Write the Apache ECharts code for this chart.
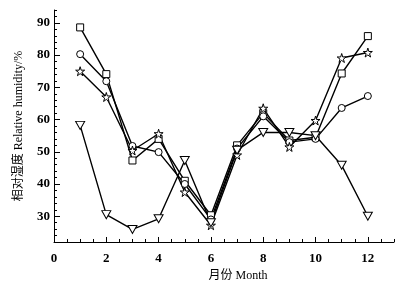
<!DOCTYPE html>
<html>
<head>
<meta charset="utf-8">
<script src="https://cdn.jsdelivr.net/npm/echarts@6/dist/echarts.min.js"></script>
<style>
  html, body { margin: 0; padding: 0; background: #fff; }
  #chart { width: 410px; height: 287px; }
</style>
</head>
<body>
<div id="chart"></div>
<script>
'use strict';
// 月份
var months = [1, 2, 3, 4, 5, 6, 7, 8, 9, 10, 11, 12];
// 四条相对湿度曲线
var squareData = [88.6, 74.1, 47.3, 54.0, 41.0, 30.3, 52.0, 62.0, 53.5, 54.5, 74.3, 85.9];
var circleData = [80.3, 71.9, 51.8, 49.9, 40.0, 29.0, 51.0, 61.0, 53.0, 54.0, 63.6, 67.3];
var starData = [75.0, 67.0, 50.4, 55.6, 37.5, 27.2, 49.0, 63.5, 51.5, 59.7, 79.1, 80.8];
var triData = [58.2, 30.5, 25.9, 29.2, 47.3, 28.0, 50.5, 56.0, 56.0, 55.0, 45.8, 30.0];
// 刻度标签
var xLabels = [0, 2, 4, 6, 8, 10, 12];
var yLabels = [30, 40, 50, 60, 70, 80, 90];

var STAR = 'path://M50,0 L61,35 L98,35 L68,57 L79,91 L50,70 L21,91 L32,57 L2,35 L39,35 Z';
var TRI = 'path://M0,0 L10,0 L5,9 Z';

function pairs(arr) {
    var out = [];
    for (var i = 0; i < arr.length; i++) {
        out.push([months[i], arr[i]]);
    }
    return out;
}

function makeSeries(data, symbol, size) {
    return {
        type: 'line',
        data: pairs(data),
        symbol: symbol,
        symbolSize: size,
        showAllSymbol: true,
        lineStyle: { color: '#000', width: 1.4 },
        itemStyle: { color: '#fff', borderColor: '#000', borderWidth: 1 },
        emphasis: { disabled: true },
        z: 3
    };
}

var font = '"Liberation Serif", "Noto Sans CJK SC", serif';
var chart = echarts.init(document.getElementById('chart'));
var option = {
    animation: false,
    backgroundColor: '#fff',
    grid: { left: 54, right: 16, top: 10, bottom: 44 },
    xAxis: [{
        type: 'value',
        min: 0,
        max: 13,
        interval: 0.5,
        splitLine: { show: false },
        axisLine: { onZero: false, lineStyle: { color: '#000', width: 1 } },
        axisTick: { inside: true, length: 3, lineStyle: { color: '#000' } },
        axisLabel: {
            customValues: xLabels,
            color: '#000', fontFamily: font, fontSize: 13, fontWeight: 'bold', margin: 10
        },
        name: '月份 Month',
        nameLocation: 'middle',
        nameGap: 28,
        nameTextStyle: { color: '#000', fontFamily: font, fontSize: 12, padding: [0, 0, 0, 28] }
    }, {
        type: 'value',
        position: 'bottom',
        min: 0,
        max: 13,
        splitLine: { show: false },
        axisLine: { show: false, onZero: false },
        axisTick: { inside: true, length: 5, customValues: xLabels, lineStyle: { color: '#000' } },
        axisLabel: { show: false }
    }],
    yAxis: [{
        type: 'value',
        min: 22,
        max: 94,
        interval: 2,
        splitLine: { show: false },
        axisLine: { show: true, onZero: false, lineStyle: { color: '#000', width: 1 } },
        axisTick: { show: true, inside: true, length: 3, lineStyle: { color: '#000' } },
        axisLabel: {
            customValues: yLabels,
            color: '#000', fontFamily: font, fontSize: 13, fontWeight: 'bold', margin: 4
        },
        name: '相对湿度 Relative humidity/%',
        nameLocation: 'middle',
        nameGap: 29,
        nameTextStyle: { color: '#000', fontFamily: font, fontSize: 12 }
    }, {
        type: 'value',
        position: 'left',
        min: 22,
        max: 94,
        splitLine: { show: false },
        axisLine: { show: false, onZero: false },
        axisTick: { show: true, inside: true, length: 6, customValues: yLabels, lineStyle: { color: '#000' } },
        axisLabel: { show: false }
    }],
    series: [
        makeSeries(squareData, 'rect', 7),
        makeSeries(circleData, 'circle', 7),
        makeSeries(starData, STAR, 9),
        makeSeries(triData, TRI, [9, 8])
    ]
};
chart.setOption(option);
</script>
</body>
</html>
